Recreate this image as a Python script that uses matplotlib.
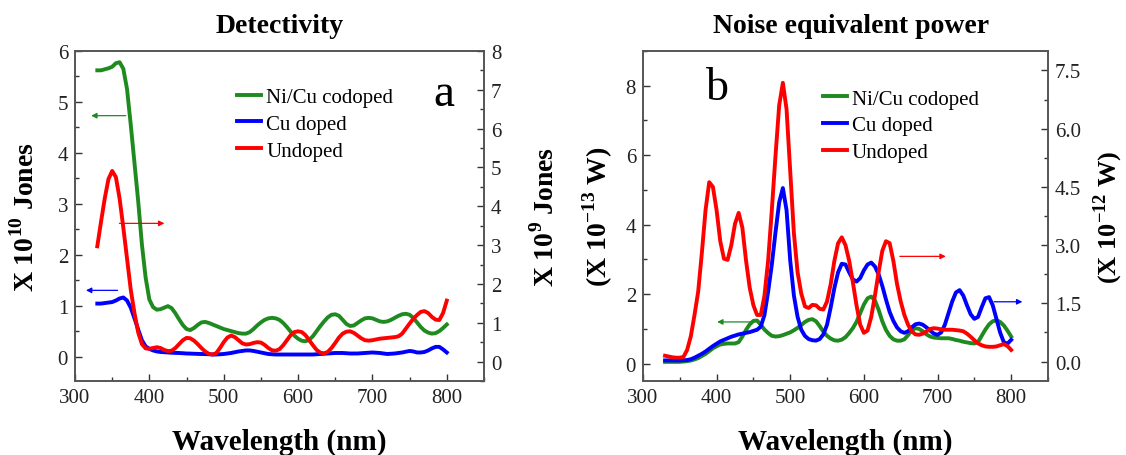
import numpy as np
import matplotlib
matplotlib.use("Agg")
import matplotlib.pyplot as plt
from matplotlib.ticker import MultipleLocator, FormatStrFormatter

plt.rcParams['font.family'] = ['Liberation Serif', 'DejaVu Serif']
plt.rcParams['mathtext.fontset'] = 'custom'
plt.rcParams['mathtext.rm'] = 'Liberation Serif'
plt.rcParams['mathtext.bf'] = 'Liberation Serif:bold'

GREEN = '#1f8a1f'
BLUE = '#0000ff'
RED = '#ff0000'

wavelength = np.arange(330, 801, 5)

# panel a: detectivity (green, blue on left axis; red on right axis)
det_nicu = [5.62, 5.62, 5.64, 5.66, 5.69, 5.76, 5.78, 5.65, 5.25, 4.55,
            3.8, 3.05, 2.2, 1.55, 1.12, 0.97, 0.92, 0.93, 0.96, 0.99,
            0.95, 0.85, 0.73, 0.62, 0.54, 0.52, 0.56, 0.62, 0.67, 0.68,
            0.66, 0.63, 0.6, 0.57, 0.54, 0.52, 0.5, 0.48, 0.46, 0.45,
            0.45, 0.48, 0.54, 0.61, 0.67, 0.72, 0.75, 0.76, 0.75, 0.72,
            0.66, 0.58, 0.49, 0.41, 0.35, 0.31, 0.30, 0.33, 0.4, 0.5,
            0.6, 0.69, 0.77, 0.82, 0.83, 0.8, 0.72, 0.64, 0.6, 0.61,
            0.66, 0.71, 0.75, 0.76, 0.75, 0.72, 0.69, 0.68, 0.69, 0.72,
            0.76, 0.8, 0.83, 0.84, 0.82, 0.76, 0.67, 0.58, 0.51, 0.47,
            0.45, 0.46, 0.5, 0.56, 0.63]
det_cu = [1.04, 1.04, 1.05, 1.06, 1.07, 1.1, 1.14, 1.16, 1.1, 0.96,
          0.75, 0.53, 0.32, 0.2, 0.15, 0.12, 0.1, 0.09, 0.085, 0.08,
          0.075, 0.072, 0.07, 0.065, 0.06, 0.058, 0.055, 0.052, 0.05, 0.048,
          0.045, 0.04, 0.04, 0.045, 0.05, 0.06, 0.07, 0.085, 0.1, 0.11,
          0.12, 0.12, 0.11, 0.095, 0.08, 0.065, 0.05, 0.045, 0.04, 0.04,
          0.04, 0.04, 0.04, 0.04, 0.04, 0.04, 0.04, 0.04, 0.04, 0.045,
          0.05, 0.055, 0.06, 0.065, 0.07, 0.07, 0.07, 0.065, 0.06, 0.06,
          0.06, 0.065, 0.07, 0.075, 0.08, 0.075, 0.07, 0.06, 0.05, 0.055,
          0.06, 0.07, 0.08, 0.095, 0.11, 0.1, 0.08, 0.08, 0.09, 0.12,
          0.16, 0.19, 0.19, 0.14, 0.08]
det_undoped = [2.97, 3.6, 4.2, 4.7, 4.91, 4.75, 4.2, 3.45, 2.65, 1.85,
               1.25, 0.75, 0.45, 0.34, 0.33, 0.35, 0.37, 0.35, 0.3, 0.27,
               0.28, 0.35, 0.45, 0.55, 0.61, 0.6, 0.54, 0.45, 0.35, 0.26,
               0.2, 0.18, 0.22, 0.35, 0.5, 0.62, 0.67, 0.63, 0.55, 0.47,
               0.44, 0.45, 0.48, 0.5, 0.49, 0.43, 0.35, 0.29, 0.28, 0.32,
               0.42, 0.55, 0.68, 0.76, 0.78, 0.76, 0.68, 0.55, 0.42, 0.3,
               0.23, 0.21, 0.25, 0.35, 0.48, 0.62, 0.72, 0.77, 0.78, 0.74,
               0.67, 0.6, 0.55, 0.54, 0.55, 0.57, 0.59, 0.6, 0.61, 0.62,
               0.63, 0.65, 0.72, 0.85, 0.98, 1.1, 1.2, 1.28, 1.3, 1.25,
               1.15, 1.08, 1.07, 1.25, 1.57]

# panel b: noise equivalent power (green on left axis; blue, red on right axis)
nep_nicu = [0.05, 0.05, 0.05, 0.05, 0.05, 0.06, 0.07, 0.09, 0.12, 0.16,
            0.22, 0.28, 0.36, 0.44, 0.5, 0.55, 0.57, 0.58, 0.58, 0.58,
            0.62, 0.78, 0.97, 1.13, 1.23, 1.24, 1.12, 0.98, 0.88, 0.8,
            0.78, 0.79, 0.82, 0.86, 0.9, 0.96, 1.03, 1.11, 1.2, 1.26,
            1.28, 1.22, 1.08, 0.92, 0.8, 0.72, 0.67, 0.66, 0.69, 0.76,
            0.88, 1.02, 1.2, 1.45, 1.7, 1.88, 1.93, 1.82, 1.55, 1.22,
            0.97, 0.8, 0.7, 0.66, 0.66, 0.7, 0.82, 0.96, 1.02, 1.0,
            0.93, 0.84, 0.78, 0.75, 0.74, 0.73, 0.73, 0.73, 0.71, 0.68,
            0.66, 0.63, 0.61, 0.59, 0.58, 0.62, 0.8, 0.98, 1.13, 1.22,
            1.25, 1.2, 1.1, 0.95, 0.78]
nep_cu = [0.03, 0.03, 0.03, 0.03, 0.03, 0.035, 0.04, 0.06, 0.1, 0.15,
          0.2, 0.26, 0.33, 0.4, 0.46, 0.52, 0.56, 0.6, 0.64, 0.67,
          0.7, 0.72, 0.74, 0.76, 0.79, 0.82, 0.9, 1.2, 1.8, 2.5,
          3.33, 4.1, 4.47, 3.9, 2.6, 1.7, 1.15, 0.82, 0.66, 0.58,
          0.55, 0.54, 0.58, 0.7, 0.95, 1.4, 1.9, 2.3, 2.52, 2.5,
          2.3, 2.12, 2.06, 2.15, 2.35, 2.5, 2.55, 2.45, 2.25, 1.95,
          1.6, 1.28, 1.05, 0.88, 0.78, 0.74, 0.78, 0.88, 0.96, 0.98,
          0.95, 0.88, 0.8, 0.72, 0.69, 0.75, 0.95, 1.25, 1.55, 1.78,
          1.84, 1.7, 1.45, 1.22, 1.1, 1.15, 1.4, 1.63, 1.66, 1.45,
          1.1, 0.75, 0.5, 0.46, 0.56]
nep_undoped = [0.15, 0.13, 0.11, 0.1, 0.1, 0.12, 0.3, 0.65, 1.2, 1.8,
               2.8, 3.9, 4.62, 4.5, 3.9, 3.1, 2.65, 2.62, 3.0, 3.55,
               3.83, 3.45, 2.6, 1.9, 1.45, 1.2, 1.2, 1.7, 2.6, 3.9,
               5.3, 6.6, 7.18, 6.5, 4.9, 3.3, 2.3, 1.75, 1.42, 1.38,
               1.46, 1.45, 1.36, 1.34, 1.55, 2.0, 2.6, 3.05, 3.2, 3.0,
               2.6, 2.05, 1.45, 0.95, 0.74, 0.8, 1.15, 1.7, 2.3, 2.85,
               3.1, 3.05, 2.6, 2.0, 1.55, 1.2, 0.95, 0.78, 0.7, 0.69,
               0.72, 0.78, 0.84, 0.86, 0.85, 0.83, 0.82, 0.82, 0.82, 0.81,
               0.8, 0.78, 0.72, 0.64, 0.55, 0.47, 0.42, 0.39, 0.38, 0.38,
               0.39, 0.42, 0.45, 0.4, 0.3]

labels = ['Ni/Cu codoped', 'Cu doped', 'Undoped']

fig = plt.figure(figsize=(11.26, 4.56), dpi=100)
axa = fig.add_axes([0.0666, 0.1623, 0.3632, 0.7237])
axb = fig.add_axes([0.571, 0.1623, 0.3597, 0.7237])


def style(ax, ymajor, yminor):
    ax.xaxis.set_major_locator(MultipleLocator(100))
    ax.xaxis.set_minor_locator(MultipleLocator(50))
    ax.yaxis.set_major_locator(MultipleLocator(ymajor))
    ax.yaxis.set_minor_locator(MultipleLocator(yminor))
    ax.tick_params(which='both', direction='in', labelsize=15, colors='#333333',
                   labelcolor='#222222', width=1, pad=5)
    ax.tick_params(which='major', length=5)
    ax.tick_params(which='minor', length=3)
    for s in ax.spines.values():
        s.set_color('#555555')
        s.set_linewidth(1.2)


def arrow(ax, x0, x1, y, color):
    ax.annotate('', xy=(x1, y), xytext=(x0, y),
                arrowprops=dict(arrowstyle='-|>', color=color, lw=0.9,
                                mutation_scale=8))


lw = 2.8
leg_kw = dict(loc='upper left', frameon=False, fontsize=15, handlelength=1.15,
              handletextpad=0.25, labelspacing=0.35, borderaxespad=0,
              borderpad=0)

# ---- panel a
axa2 = axa.twinx()
la1, = axa.plot(wavelength, det_nicu, color=GREEN, lw=lw)
la2, = axa.plot(wavelength, det_cu, color=BLUE, lw=lw)
la3, = axa2.plot(wavelength, det_undoped, color=RED, lw=lw)
axa.set_xlim(300, 850)
axa.set_ylim(-0.48, 6.0)
axa2.set_ylim(-0.5, 8.0)
style(axa, 1, 0.5)
style(axa2, 1, 0.5)
axa.set_title('Detectivity', fontsize=20, fontweight='bold', pad=14)
axa.set_xlabel('Wavelength (nm)', fontsize=21, fontweight='bold')
axa.xaxis.set_label_coords(0.5, -0.14)
axa.set_ylabel(r'X 10$^{\mathbf{10}}$ Jones', fontsize=20, fontweight='bold')
axa.yaxis.set_label_coords(-0.086, 0.5)
axa2.set_ylabel(r'X 10$^{\mathbf{9}}$ Jones', fontsize=20, fontweight='bold')
axa2.yaxis.set_label_coords(1.115, 0.5)
axa.legend([la1, la2, la3], labels, bbox_to_anchor=(0.396, 0.89), **leg_kw)
axa.text(0.902, 0.87, 'a', transform=axa.transAxes, fontsize=34,
         ha='center', va='center')
arrow(axa, 372, 318, 4.73, GREEN)
arrow(axa, 361, 311, 1.3, BLUE)
arrow(axa2, 356, 424, 3.56, RED)

# ---- panel b
axb2 = axb.twinx()
lb1, = axb.plot(wavelength, nep_nicu, color=GREEN, lw=lw)
lb2, = axb2.plot(wavelength, nep_cu, color=BLUE, lw=lw)
lb3, = axb2.plot(wavelength, nep_undoped, color=RED, lw=lw)
axb.set_xlim(300, 850)
axb.set_ylim(-0.5, 9.0)
axb2.set_ylim(-0.5, 8.0)
style(axb, 2, 1)
style(axb2, 1.5, 0.75)
axb2.yaxis.set_major_formatter(FormatStrFormatter('%.1f'))
axb.set_title('Noise equivalent power', fontsize=20, fontweight='bold', pad=14,
              x=0.515)
axb.set_xlabel('Wavelength (nm)', fontsize=21, fontweight='bold')
axb.xaxis.set_label_coords(0.5, -0.14)
axb.set_ylabel(r'(X 10$^{\mathbf{-13}}$ W)', fontsize=20, fontweight='bold')
axb.yaxis.set_label_coords(-0.069, 0.5)
axb2.set_ylabel(r'(X 10$^{\mathbf{-12}}$ W)', fontsize=19, fontweight='bold')
axb2.yaxis.set_label_coords(1.108, 0.5)
axb.legend([lb1, lb2, lb3], labels, bbox_to_anchor=(0.444, 0.885), **leg_kw)
axb.text(0.185, 0.89, 'b', transform=axb.transAxes, fontsize=33,
         ha='center', va='center')
arrow(axb, 455, 397, 1.2, GREEN)
arrow(axb2, 645, 715, 2.71, RED)
arrow(axb2, 773, 819, 1.54, BLUE)

fig.savefig('out.png', dpi=100)
